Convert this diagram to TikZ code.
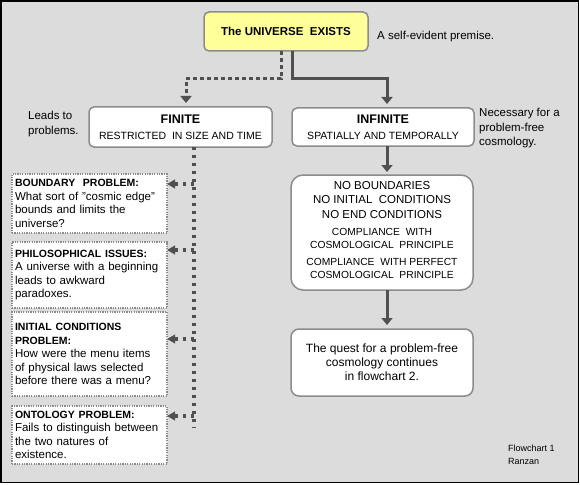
\documentclass[tikz,border=0pt]{standalone}
\usepackage{fontspec}
\setmainfont{Liberation Sans}
\usetikzlibrary{arrows.meta}
\definecolor{bggray}{HTML}{DCDCDC}
\definecolor{boxgray}{HTML}{8C8C8C}
\definecolor{linegray}{HTML}{505050}
\definecolor{premise}{HTML}{FFFF99}
\newcommand\headfont{\bfseries\fontsize{12.5}{15}\selectfont}
\newcommand\subfont{\fontsize{10.5}{13}\selectfont}
\newcommand\cplfont{\fontsize{10.3}{12}\selectfont}
\newcommand\probfont{\bfseries\fontsize{10.5}{13.5}\selectfont}
\tikzset{%
    box/.style={inner sep=0pt,outer sep=0pt,shape=rectangle,draw=boxgray,line width=1.5pt,fill=white,rounded corners=5pt,align=center,font=\fontsize{11.5}{14.5}\selectfont},
    top box/.style={box,fill=premise,font=\bfseries\fontsize{11.5}{14}\selectfont},
    problem/.style={inner xsep=3pt,inner ysep=0pt,outer sep=0pt,shape=rectangle,draw=boxgray,line width=1.2pt,dash pattern=on 1.2pt off 1.2pt,fill=white,text width=149pt,align=left,font=\fontsize{11.5}{13.5}\selectfont},
    note/.style={inner sep=0pt,align=left,font=\fontsize{11.5}{15.5}\selectfont},
    solid link/.style={draw=linegray,line width=3pt,-{Triangle[length=7pt,width=11pt]}},
    dotted link/.style={draw=linegray,line width=3pt,dash pattern=on 4pt off 3pt,-{Triangle[length=7pt,width=11pt]}},
    spine/.style={draw=linegray,line width=3.2pt,dash pattern=on 3.3pt off 4.7pt},
    branch/.style={draw=linegray,line width=3.2pt,dash pattern=on 3.3pt off 4.7pt,-{Triangle[length=8pt,width=8.5pt]}},
}

\begin{document}
\begin{tikzpicture}[x=1pt,y=-1pt]
        \draw[fill=bggray,line width=1.8pt] (1,1) rectangle (578.5,482.5);
        \useasboundingbox (0,0) rectangle (580,484);

        \node[top box,minimum width=164pt,minimum height=39pt] (nodeTop) at (286,31.5) {The UNIVERSE\ \ EXISTS};
        \node[note,anchor=west] (notePremise) at (377,37) {A self-evident premise.};

        \node[box,minimum width=183pt,minimum height=40pt] (nodeFinite) at (180.5,127) {\headfont FINITE\\[1.5pt]\subfont RESTRICTED\ \ IN SIZE AND TIME};
        \node[note,anchor=west] (noteLeads) at (28,124) {Leads to\\problems.};

        \node[box,minimum width=182pt,minimum height=38pt] (nodeInfinite) at (383,127) {\headfont INFINITE\\[1.5pt]\subfont SPATIALLY AND TEMPORALLY};
        \node[note,anchor=west,font=\fontsize{11.5}{14.5}\selectfont] (noteNecessary) at (479,128.5) {Necessary for a\\problem-free\\cosmology.};

        \node[box,rounded corners=12pt,minimum width=182pt,minimum height=115pt] (nodeNone) at (382,232.5) {NO BOUNDARIES\\NO INITIAL\ \ CONDITIONS\\NO END CONDITIONS\\[2.5pt]\cplfont COMPLIANCE\ \ WITH\\[-1.5pt]\cplfont COSMOLOGICAL\ \ PRINCIPLE\\[2.5pt]\cplfont COMPLIANCE\ \ WITH PERFECT\\[-1.5pt]\cplfont COSMOLOGICAL\ \ PRINCIPLE\\[-8.5pt]\mbox{}};
        \node[box,rounded corners=8pt,minimum width=182pt,minimum height=67pt,font=\fontsize{12}{14}\selectfont] (nodeQuest) at (382,362.5) {The quest for a problem-free\\cosmology continues\\in flowchart 2.};

        \node[problem,minimum height=59pt] (nodeBoundary) at (89.5,203.5) {{\probfont BOUNDARY\ \ PROBLEM:}\\What sort of "cosmic edge"\\bounds and limits the\\universe?};
        \node[problem,minimum height=66pt] (nodePhilo) at (89.5,275) {{\probfont PHILOSOPHICAL ISSUES:}\\A universe with a beginning\\leads to awkward\\paradoxes.};
        \node[problem,minimum height=84pt] (nodeInitial) at (89.5,354) {{\probfont INITIAL CONDITIONS\\PROBLEM:}\\How were the menu items\\of physical laws selected\\before there was a menu?};
        \node[problem,minimum height=58pt] (nodeOntology) at (89.5,435) {{\probfont ONTOLOGY PROBLEM:}\\Fails to distinguish between\\the two natures of\\existence.};

        \node[note,anchor=west,font=\fontsize{9}{13}\selectfont] (noteCredit) at (508,454.5) {Flowchart 1\\Ranzan};

        \draw[dotted link,shorten >=4pt] ([xshift=-5pt]nodeTop.south) -- ++(0,28) -| ([xshift=5.5pt]nodeFinite.north);
        \draw[solid link,shorten >=4pt] ([xshift=6pt]nodeTop.south) -- ++(0,28) -| ([xshift=4pt]nodeInfinite.north);
        \draw[solid link,shorten >=3pt] ([xshift=4pt]nodeInfinite.south) -- ([xshift=5pt]nodeNone.north);
        \draw[solid link,shorten >=4pt] ([xshift=5pt]nodeNone.south) -- ([xshift=5pt]nodeQuest.north);

        \coordinate (spineTop) at ([xshift=13.5pt]nodeFinite.south);
        \coordinate (spineEnd) at (194,428);
        \draw[spine] (spineTop) -- (spineEnd);
        \draw[branch] (spineTop |- 0,184) -- (nodeBoundary.east |- 0,184);
        \draw[branch] (spineTop |- 0,250) -- (nodePhilo.east |- 0,250);
        \draw[branch] (spineTop |- 0,339) -- (nodeInitial.east |- 0,339);
        \draw[branch] (spineTop |- 0,416) -- (nodeOntology.east |- 0,416);
    \end{tikzpicture}
\end{document}
